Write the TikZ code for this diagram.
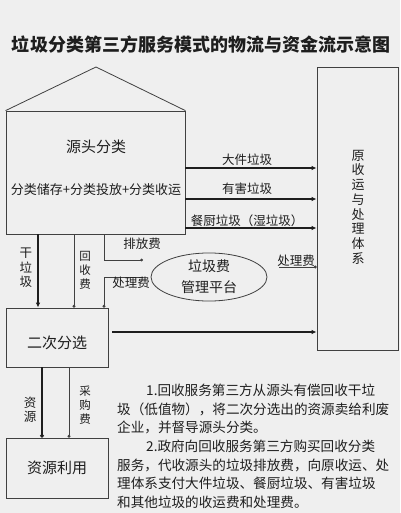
\documentclass[tikz,border=0pt]{standalone}
\usepackage{fontspec}
\setmainfont{Noto Sans CJK SC}
\usetikzlibrary{arrows.meta,shapes.geometric}
\definecolor{bgray}{HTML}{EFEFEF}
\definecolor{ink}{HTML}{1E1E1E}

\tikzset{
  box/.style={draw=ink!85, line width=0.8pt, inner sep=0pt},
  flow/.style={draw=ink, line width=2pt, -{Latex[length=5pt,width=4.5pt]}},
  fee/.style={draw=ink!85, line width=0.8pt, -{Circle[length=2.8pt]}},
  lbl/.style={text=ink, font=\fontsize{12.5}{14}\selectfont, inner sep=1pt},
  vlbl/.style={text=ink, align=center, font=\fontsize{11.5}{14}\selectfont, inner sep=0pt},
}

\begin{document}
\begin{tikzpicture}[x=1pt, y=-1pt]
  \useasboundingbox[fill=bgray] (0,0) rectangle (400,513);

  \node[text=ink, inner sep=0pt, font=\bfseries\fontsize{18}{20}\selectfont] (title) at (201,45) {垃圾分类第三方服务模式的物流与资金流示意图};

  \node[box, minimum width=179pt, minimum height=123pt] (src) at (95.5,172.5) {};
  \draw[box] (src.north west) -- (96,67) -- (src.north east);
  \node[lbl, font=\fontsize{15}{17}\selectfont] (srct) at (96,147) {源头分类};
  \node[lbl, font=\fontsize{13}{15}\selectfont] (srcs) at (96,190) {分类储存+分类投放+分类收运};

  \node[box, minimum width=81pt, minimum height=283pt] (sys) at (357.5,208.5) {};
  \node[vlbl, font=\fontsize{13}{14.7}\selectfont] (syst) at (358,207) {原\\收\\运\\与\\处\\理\\体\\系};

  \node[box, minimum width=102pt, minimum height=59pt] (sort2) at (57,337.5) {};
  \node[lbl, font=\fontsize{15}{17}\selectfont] (sort2t) at (57,343) {二次分选};

  \node[box, minimum width=102pt, minimum height=60pt] (use) at (57,468) {};
  \node[lbl, font=\fontsize{15}{17}\selectfont] (uset) at (57,468) {资源利用};

  \node[draw=ink!85, line width=0.8pt, ellipse, minimum width=116pt, minimum height=48pt, inner sep=0pt,
        align=center, text=ink, font=\fontsize{14}{21}\selectfont] (fund) at (209,277) {垃圾费\\管理平台};

  \draw[flow] (src.east |- 0,168) -- (sys.west |- 0,168);
  \draw[flow] (src.east |- 0,199) -- (sys.west |- 0,199);
  \draw[flow] (src.east |- 0,228) -- (sys.west |- 0,228);
  \draw[flow, shorten <=4pt] (sort2.east |- 0,332) -- (sys.west |- 0,332);
  \node[lbl] (w1) at (247,160) {大件垃圾};
  \node[lbl] (w2) at (247,189) {有害垃圾};
  \node[lbl] (w3) at (247,221) {餐厨垃圾（湿垃圾）};

  \draw[flow] (src.south -| 38,0) -- (sort2.north -| 38,0);
  \node[vlbl, font=\fontsize{12.5}{14.5}\selectfont] (dry) at (26,268) {干\\垃\\圾};
  \draw[fee] (src.south -| 74,0) -- (sort2.north -| 74,0);
  \node[vlbl] (rec) at (85,270) {回\\收\\费};

  \coordinate (pf) at (143,260);
  \coordinate (cf) at (143,277);
  \coordinate (cr) at (279,267);
  \draw[fee] (src.south -| 104,0) |- (pf);
  \draw[fee] (cf) -| (sort2.north -| 104,0);
  \draw[fee] (cr) -- (sys.west |- cr);
  \node[lbl] (pft) at (142,244) {排放费};
  \node[lbl] (cft) at (131,283) {处理费};
  \node[lbl] (crt) at (296,261) {处理费};

  \draw[flow, -{Circle[length=3.5pt]}] (sort2.south -| 42,0) -- (use.north -| 42,0);
  \node[vlbl, font=\fontsize{12.5}{14.5}\selectfont] (res) at (30,410) {资\\源};
  \draw[fee] (sort2.south -| 69,0) -- (use.north -| 69,0);
  \node[vlbl] (buy) at (85,405) {采\\购\\费};

  \node[anchor=north west, align=left, text=ink, inner sep=0pt,
        font=\fontsize{13.6}{18.6}\selectfont] (note) at (117,384) {%
    \hspace*{29pt}1.回收服务第三方从源头有偿回收干垃\\
    圾（低值物），将二次分选出的资源卖给利废\\
    企业，并督导源头分类。\\
    \hspace*{29pt}2.政府向回收服务第三方购买回收分类\\
    服务，代收源头的垃圾排放费，向原收运、处\\
    理体系支付大件垃圾、餐厨垃圾、有害垃圾\\
    和其他垃圾的收运费和处理费。};
\end{tikzpicture}
\end{document}
